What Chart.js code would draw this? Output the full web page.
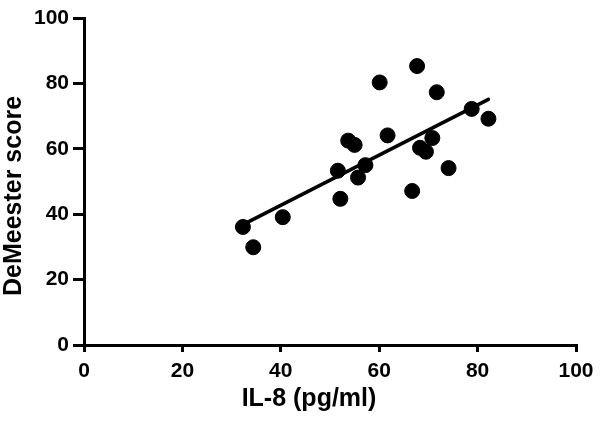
<!DOCTYPE html>
<html>
<head>
<meta charset="utf-8">
<script src="https://cdn.jsdelivr.net/npm/chart.js@4"></script>
<style>
  html, body { margin: 0; padding: 0; background: #fff; }
  canvas { display: block; }
</style>
</head>
<body>
<canvas id="c" width="602" height="421"></canvas>
<script>
// Data
const il8 = [32.3, 34.4, 40.4, 52.1, 51.6, 53.7, 55.0, 55.7, 57.2, 60.1,
             61.7, 66.7, 67.7, 68.3, 69.5, 70.8, 71.7, 74.1, 78.8, 82.2];
const demeester = [36.1, 29.9, 39.1, 44.7, 53.3, 62.5, 61.2, 51.2, 55.0, 80.3,
                   64.1, 47.1, 85.3, 60.3, 59.1, 63.3, 77.3, 54.1, 72.2, 69.2];
const fitX = [32.3, 82.2];
const fitY = [36.8, 75.1];
const xTickValues = [0, 20, 40, 60, 80, 100];
const yTickValues = [0, 20, 40, 60, 80, 100];
const xTitle = "IL-8 (pg/ml)";
const yTitle = "DeMeester score";

const FONT = '"Liberation Sans", Arial, Helvetica, sans-serif';

const scatterPts = il8.map((x, i) => ({ x: x, y: demeester[i] }));
const fitPts = fitX.map((x, i) => ({ x: x, y: fitY[i] }));

const titlesPlugin = {
  id: 'axisTitles',
  afterDraw(chart) {
    const ctx = chart.ctx;
    ctx.save();
    ctx.fillStyle = '#000';
    ctx.font = 'bold 25px ' + FONT;
    ctx.textAlign = 'center';
    ctx.textBaseline = 'middle';
    ctx.fillText(xTitle, 309, 399);
    ctx.translate(14, 196);
    ctx.rotate(-Math.PI / 2);
    ctx.fillText(yTitle, 0, 0);
    ctx.restore();
  }
};

const axisCommon = {
  type: 'linear',
  min: 0,
  max: 100,
  border: { display: true, color: '#000', width: 3 },
  grid: {
    display: true,
    drawOnChartArea: false,
    drawTicks: true,
    color: '#000',
    lineWidth: 3
  }
};

new Chart(document.getElementById('c'), {
  type: 'scatter',
  data: {
    datasets: [
      {
        type: 'line',
        data: fitPts,
        borderColor: '#000',
        borderWidth: 3.5,
        borderCapStyle: 'round',
        pointRadius: 0,
        fill: false,
        order: 2
      },
      {
        type: 'scatter',
        data: scatterPts,
        backgroundColor: '#000',
        borderColor: '#000',
        pointRadius: 7.5,
        pointHoverRadius: 7.5,
        order: 1
      }
    ]
  },
  options: {
    responsive: false,
    animation: false,
    clip: false,
    layout: { padding: { left: 0, right: 26, top: 18, bottom: 0 } },
    plugins: { legend: { display: false }, tooltip: { enabled: false } },
    scales: {
      x: Object.assign({}, axisCommon, {
        position: 'bottom',
        grid: Object.assign({}, axisCommon.grid, { tickLength: 7 }),
        afterBuildTicks(scale) { scale.ticks = xTickValues.map(v => ({ value: v })); },
        ticks: {
          color: '#000',
          padding: 7,
          maxRotation: 0,
          font: { family: FONT, size: 21, weight: 'bold' }
        },
        afterFit(scale) { scale.height = 76; }
      }),
      y: Object.assign({}, axisCommon, {
        position: 'left',
        grid: Object.assign({}, axisCommon.grid, { tickLength: 11 }),
        afterBuildTicks(scale) { scale.ticks = yTickValues.map(v => ({ value: v })); },
        ticks: {
          color: '#000',
          padding: 4,
          font: { family: FONT, size: 21, weight: 'bold' }
        },
        afterFit(scale) { scale.width = 84; }
      })
    }
  },
  plugins: [titlesPlugin]
});
</script>
</body>
</html>
